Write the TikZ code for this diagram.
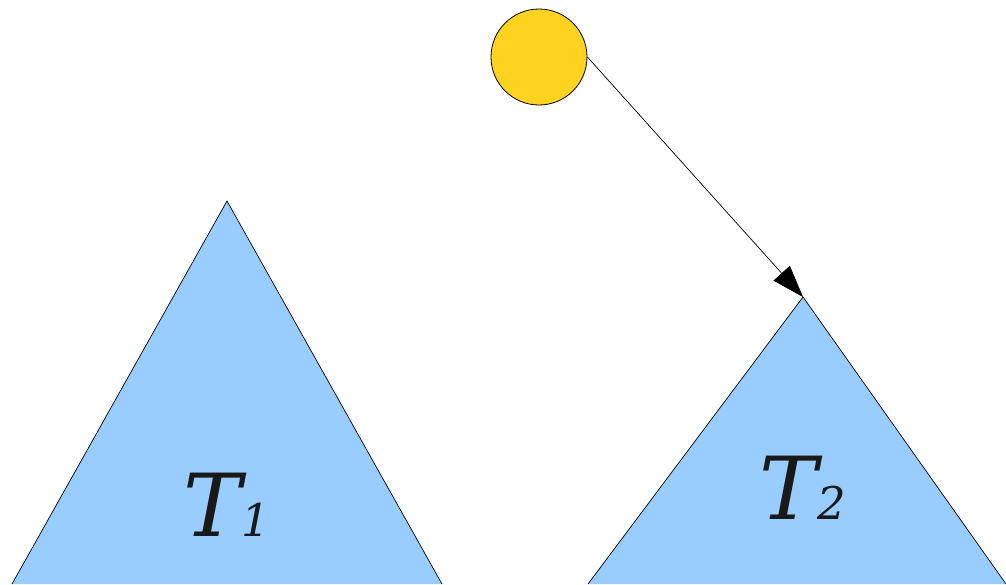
\documentclass[tikz,border=0pt]{standalone}
\usepackage{fontspec}
\setmainfont{DejaVu Serif}
\usepackage{tikz}
\usetikzlibrary{arrows.meta}

\definecolor{sunyellow}{HTML}{FFD320}
\definecolor{treeblue}{HTML}{99CCFF}

\begin{document}
\begin{tikzpicture}[x=1pt,y=-1pt]
\useasboundingbox (0,0) rectangle (1006,584);
\begin{scope}[tree/.style={fill=treeblue},
              rim/.style={draw=black,line width=0.7pt}]
    \coordinate (Top1) at (227,201);
    \coordinate (Left1) at (12,584);
    \coordinate (Right1) at (442,584);
    \coordinate (Top2) at (803,297);
    \coordinate (Left2) at (588,584);
    \coordinate (Right2) at (1006,584);
    \path [tree] (Left1) -- (Top1) -- (Right1) -- cycle;
    \path [rim] (Left1) -- (Top1) -- (Right1);
    \path [tree] (Left2) -- (Top2) -- (Right2) -- cycle;
    \path [rim] (Left2) -- (Top2) -- (Right2);
\end{scope}
\begin{scope}[every node/.style={anchor=base,inner sep=0pt,text=black!90,font=\fontsize{87}{87}\selectfont\itshape}]
    \node (T1) at (227,536) {T{\fontsize{45}{45}\selectfont 1}};
    \node (T2) at (803,519) {T{\fontsize{45}{45}\selectfont 2}};
\end{scope}
\node (Root) [circle,draw,fill=sunyellow,line width=0.8pt,minimum size=96pt,inner sep=0pt] at (539,57) {};
\begin{scope}[>={Triangle[length=32pt,width=22pt]}]
    \path [->] (Root.east) edge [draw=black,line width=0.7pt] (Top2);
\end{scope}
\end{tikzpicture}
\end{document}
